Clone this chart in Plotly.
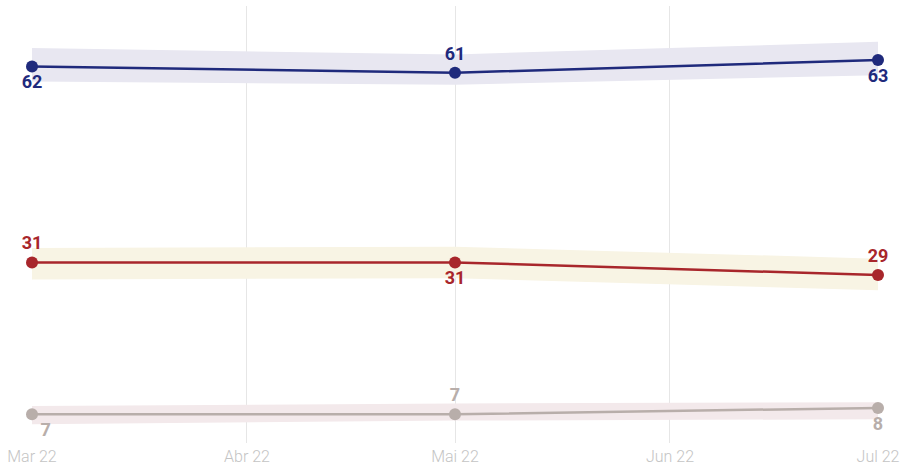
import plotly.graph_objects as go

dates = ["2022-03-01", "2022-05-01", "2022-07-01"]
tick_vals = ["2022-03-01", "2022-04-01", "2022-05-01", "2022-06-01", "2022-07-01"]
tick_text = ["Mar 22", "Abr 22", "Mai 22", "Jun 22", "Jul 22"]

blue = [62, 61, 63]
blue_hi = [64.9, 63.9, 65.9]
blue_lo = [59.6, 59.1, 60.6]

red = [31, 31, 29]
red_hi = [33.3, 33.5, 31.6]
red_lo = [28.3, 28.5, 26.6]

gray = [7, 7, 8]
gray_hi = [8.3, 8.7, 8.9]
gray_lo = [5.4, 6.0, 6.2]

series = [
    (blue, blue_hi, blue_lo, "#1f2a7c", "#e8e7f1", ["bottom center", "top center", "bottom center"]),
    (red, red_hi, red_lo, "#a8262b", "#f8f4e4", ["top center", "bottom center", "top center"]),
    (gray, gray_hi, gray_lo, "#b8aeaa", "#f3e9eb", ["bottom right", "top center", "bottom center"]),
]

fig = go.Figure()
for vals, hi, lo, col, band, pos in series:
    fig.add_trace(go.Scatter(
        x=dates + dates[::-1], y=hi + lo[::-1], fill="toself", fillcolor=band,
        line=dict(width=0), mode="lines", hoverinfo="skip", showlegend=False))
for vals, hi, lo, col, band, pos in series:
    fig.add_trace(go.Scatter(
        x=dates, y=vals, mode="lines+markers+text",
        line=dict(color=col, width=2.5),
        marker=dict(color=col, size=12),
        text=[str(v) for v in vals], textposition=pos,
        textfont=dict(family="Roboto", size=18, color=col, weight="bold"),
        cliponaxis=False, showlegend=False))

fig.update_layout(
    width=902, height=465,
    margin=dict(l=32, r=24, t=6, b=22),
    paper_bgcolor="white", plot_bgcolor="white",
    font=dict(family="Roboto"),
    xaxis=dict(type="date", range=["2022-03-01", "2022-07-01"],
               tickvals=tick_vals, ticktext=tick_text,
               showgrid=True, gridcolor="#e6e6e6", gridwidth=1,
               zeroline=False, showline=False, ticks="",
               ticklabelstandoff=2, automargin=False,
               tickfont=dict(family="Roboto", size=16, color="#c4c4c4", weight=300)),
    yaxis=dict(range=[2.45, 71.55], visible=False, showgrid=False, zeroline=False),
)

fig.write_html("out.html", config={"displayModeBar": False},
               post_script="document.body.style.margin='0';document.body.style.overflow='hidden';")
